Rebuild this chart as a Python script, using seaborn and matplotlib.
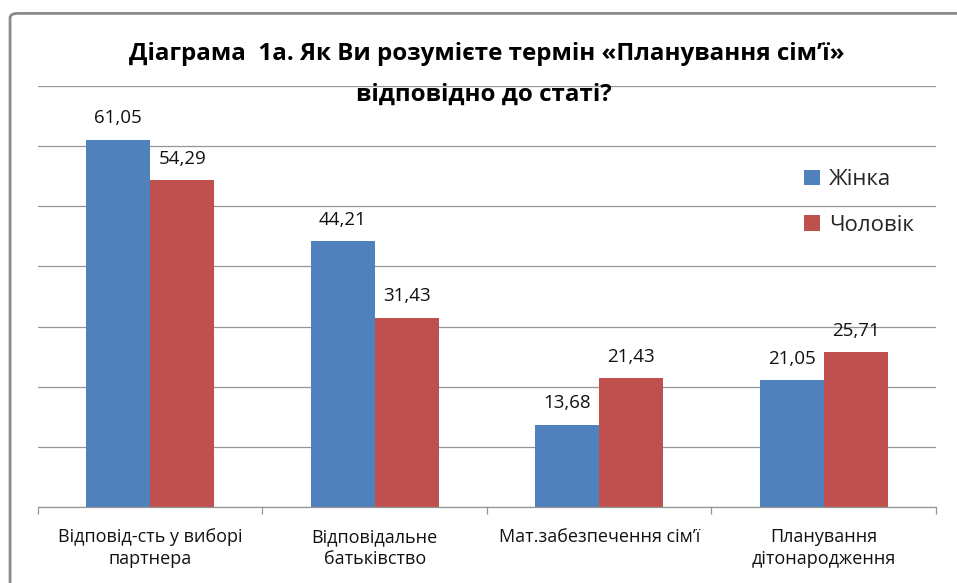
import pandas as pd
import numpy as np
import matplotlib.pyplot as plt
import seaborn as sns
from matplotlib.patches import FancyBboxPatch

# data
categories = ["Відповід-сть у виборі\nпартнера", "Відповідальне\nбатьківство",
              "Мат.забезпечення сім’ї", "Планування\nдітонародження"]
women = [61.05, 44.21, 13.68, 21.05]
men = [54.29, 31.43, 21.43, 25.71]
series = ["Жінка", "Чоловік"]
colors = ["#4F81BD", "#C0504D"]

df = pd.DataFrame({
    "category": categories * 2,
    "value": women + men,
    "sex": [series[0]] * 4 + [series[1]] * 4,
})

sns.set_theme(style="white")
plt.rcParams["font.family"] = ["Open Sans", "DejaVu Sans"]

fig = plt.figure(figsize=(9.57, 5.83), dpi=100)
ax = fig.add_axes([0.0397, 0.1304, 0.9383, 0.7221])

sns.barplot(data=df, x="category", y="value", hue="sex", order=categories,
            hue_order=series, palette=colors, width=0.57, saturation=1,
            edgecolor="none", ax=ax)

ax.set_ylim(0, 70)
ax.set_xlim(-0.5, 3.5)
ax.set_yticks(np.arange(0, 71, 10))
ax.set_yticklabels([])
ax.tick_params(axis="y", length=0)
ax.yaxis.grid(True, color="#959595", linewidth=0.9)
ax.set_axisbelow(True)
ax.set_xlabel("")
ax.set_ylabel("")

for s in ["left", "right", "top"]:
    ax.spines[s].set_visible(False)
ax.spines["bottom"].set_color("#959595")
ax.spines["bottom"].set_linewidth(0.9)

# ticks at category boundaries, labels centred
ax.set_xticks(np.arange(-0.5, 4, 1))
ax.set_xticklabels([])
ax.set_xticks(np.arange(4), minor=True)
ax.set_xticklabels(categories, minor=True, fontsize=13, color="#111111",
                   linespacing=1.32)
ax.tick_params(axis="x", which="major", length=5, color="#959595", width=0.9,
               direction="out", bottom=True)
ax.tick_params(axis="x", which="minor", length=0, pad=15)

for cont in ax.containers:
    ax.bar_label(cont, labels=[f"{v:.2f}".replace(".", ",") for v in cont.datavalues],
                 padding=9, fontsize=13.5, color="#111111")

ax.legend(loc="upper left", bbox_to_anchor=(0.831, 0.85), frameon=False,
          fontsize=16, handlelength=0.7, handleheight=0.7, handletextpad=0.4,
          labelspacing=1.1)

fig.text(0.509, 0.907, "Діаграма  1а. Як Ви розумієте термін «Планування сім’ї»",
         ha="center", va="center", fontsize=17.4, fontweight="bold", color="#000000")
fig.text(0.506, 0.838, "відповідно до статі?", ha="center", va="center",
         fontsize=17.4, fontweight="bold", color="#000000")

border = FancyBboxPatch((0.0105, -0.05), 1.02, 1.027, boxstyle="round,pad=0,rounding_size=0.008",
                        transform=fig.transFigure, facecolor="none",
                        edgecolor="#8a8a8a", linewidth=2, clip_on=False)
fig.patches.append(border)

fig.savefig("out.png", dpi=100)
